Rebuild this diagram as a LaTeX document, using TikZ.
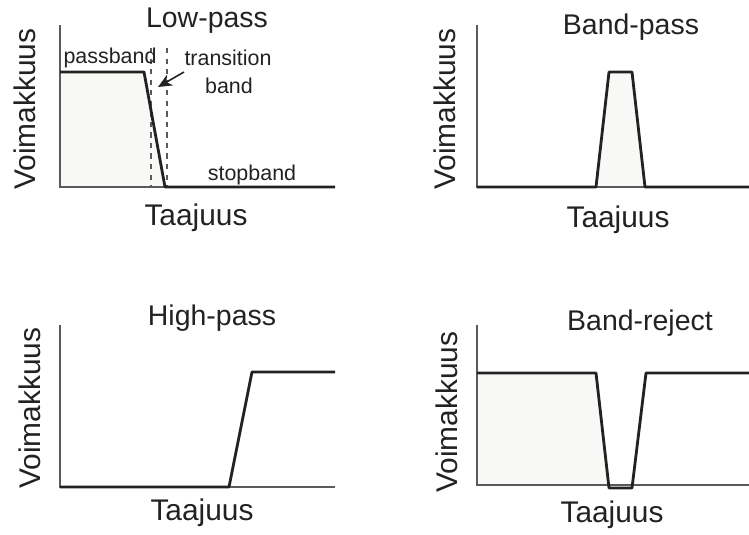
\documentclass[tikz,border=0pt]{standalone}
\usepackage{fontspec}
\setmainfont{Liberation Sans}
\usetikzlibrary{arrows.meta}
\definecolor{axisgray}{HTML}{5A5A5A}
\definecolor{curvegray}{HTML}{222222}
\definecolor{fillgray}{HTML}{F8F9F6}
\tikzset{
  axis/.style={draw=axisgray, line width=1.6pt},
  curve/.style={draw=curvegray, line width=1.6pt, line join=round},
  bandfill/.style={fill=fillgray},
  bandedge/.style={draw=axisgray, dashed, line width=1pt},
  title/.style={font=\fontsize{16.2}{18}\selectfont, text=curvegray, anchor=base, inner sep=0pt},
  axlabel/.style={font=\fontsize{17}{19}\selectfont, text=curvegray, anchor=base, inner sep=0pt},
  ylabel/.style={font=\fontsize{17}{19}\selectfont, text=curvegray, rotate=90, inner sep=0pt},
  small/.style={font=\fontsize{12.2}{14}\selectfont, text=curvegray, anchor=base, inner sep=0pt}
}
\begin{document}
\begin{tikzpicture}[x=0.02cm, y=-0.02cm]
        \useasboundingbox (0,0) rectangle (749,534);
        % Low-pass
        \fill[bandfill] (60,187) -- (60,72) -- (144,72) -- (165,187) -- cycle;
        \draw[bandedge] (151,48) -- (151,187);
        \draw[bandedge] (167,48) -- (167,187);
        \draw[axis] (60,25) -- (60,187) -- (335,187);
        \draw[curve] (60,72) -- (144,72) -- (165,187) -- (335,187);
        \node[title] (lptitle) at (207,28) {Low-pass};
        \node[small] (pass) at (110,63) {passband};
        \node[small] (trans) at (228,65) {transition};
        \node[small] (transb) at (229,93) {band};
        \node[small] (stop) at (252,180) {stopband};
        \coordinate (tbtail) at (184,72);
        \coordinate (tbtip) at (158,87);
        \draw[-{Stealth[length=8pt,width=7pt]}, curvegray, line width=0.9pt] (tbtail) -- (tbtip);
        \node[axlabel] (lpx) at (196,225) {Taajuus};
        \node[ylabel] (lpy) at (25,109) {Voimakkuus};
        % Band-pass
        \fill[bandfill] (596,187) -- (609,72) -- (632,72) -- (645,187) -- cycle;
        \draw[axis] (477,25) -- (477,187) -- (749,187);
        \draw[curve] (477,187) -- (596,187) -- (609,72) -- (632,72) -- (645,187) -- (749,187);
        \node[title] (bptitle) at (631,34) {Band-pass};
        \node[axlabel] (bpx) at (618,227) {Taajuus};
        \node[ylabel] (bpy) at (445,109) {Voimakkuus};
        % High-pass
        \draw[axis] (60,325) -- (60,487) -- (335,487);
        \draw[curve] (60,487) -- (229,487) -- (252,372) -- (335,372);
        \node[title] (hptitle) at (212,325) {High-pass};
        \node[axlabel] (hpx) at (202,520) {Taajuus};
        \node[ylabel] (hpy) at (30,408) {Voimakkuus};
        % Band-reject
        \fill[bandfill] (477,485) -- (477,373) -- (596,373) -- (609,485) -- cycle;
        \draw[axis] (477,325) -- (477,485) -- (749,485);
        \draw[curve] (477,373) -- (596,373) -- (609,488) -- (632,488) -- (646,373) -- (749,373);
        \node[title] (brtitle) at (640,330) {Band-reject};
        \node[axlabel] (brx) at (612,522) {Taajuus};
        \node[ylabel] (bry) at (447,412) {Voimakkuus};
    \end{tikzpicture}
\end{document}
